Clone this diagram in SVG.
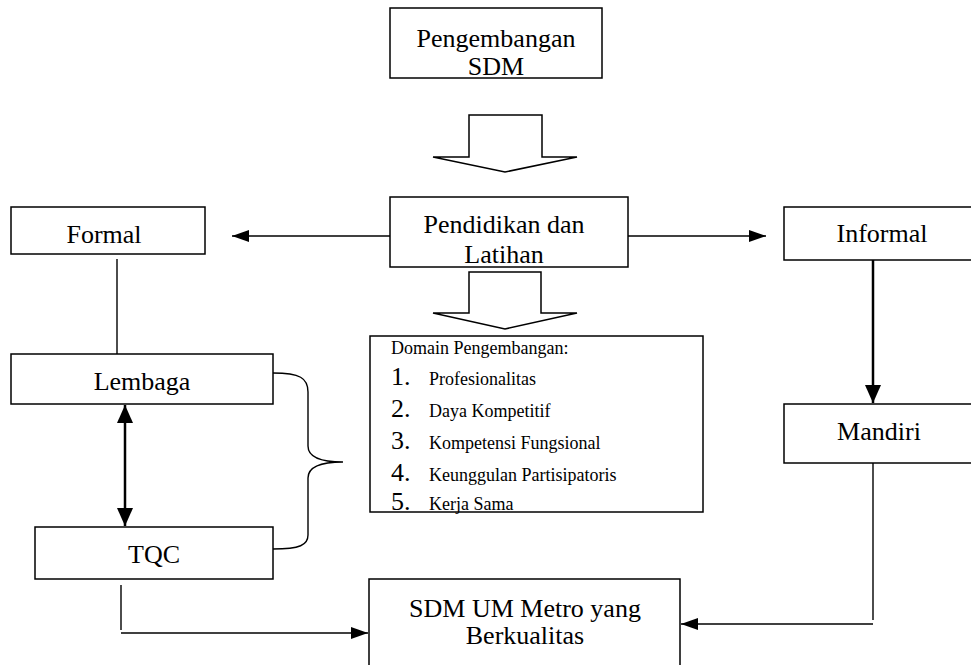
<svg xmlns="http://www.w3.org/2000/svg" width="971" height="665" viewBox="0 0 971 665">
<style>
.box{fill:#fff;stroke:#000;stroke-width:1.5}
.t{font-family:"Liberation Serif","Times New Roman",serif;font-size:26px;fill:#000;text-anchor:middle}
.ln{fill:none;stroke:#000;stroke-width:1.4}
.thk{fill:none;stroke:#000;stroke-width:2.5}
.hol{fill:#fff;stroke:#000;stroke-width:1.5}
.s{font-family:"Liberation Serif","Times New Roman",serif;fill:#000}
.n{font-family:"Liberation Serif","Times New Roman",serif;fill:#000;font-size:26px}
.i{font-family:"Liberation Serif","Times New Roman",serif;fill:#000;font-size:18px}
</style>
<defs>
<marker id="ah" markerUnits="userSpaceOnUse" markerWidth="17" markerHeight="12" refX="17" refY="6" orient="auto"><path d="M0,0 L17,6 L0,12 z" fill="#000"/></marker>
<marker id="ahb" markerUnits="userSpaceOnUse" markerWidth="18" markerHeight="16" refX="18" refY="8" orient="auto-start-reverse"><path d="M0,0 L18,8 L0,16 z" fill="#000"/></marker>
</defs>
<rect width="971" height="665" fill="#fff"/>
<g id="pengembangan-sdm">
<rect class="box" x="390" y="8" width="212" height="70"/>
<text class="t" x="496" y="47">Pengembangan</text>
<text class="t" x="496" y="75">SDM</text>
</g>
<g id="hollow-arrow-1">
<polygon class="hol" points="469,115 542,115 542,157 577,157 505,172 433,157 469,157"/>
</g>
<g id="pendidikan">
<rect class="box" x="390" y="197" width="238" height="70"/>
<text class="t" x="504" y="233">Pendidikan dan</text>
<text class="t" x="504" y="263">Latihan</text>
</g>
<g id="hollow-arrow-2">
<polygon class="hol" points="469,272 541,272 541,313 577,313 505,329 433,313 469,313"/>
</g>
<g id="formal">
<rect class="box" x="11" y="207" width="194" height="47"/>
<text class="t" x="104" y="243">Formal</text>
</g>
<g id="informal">
<rect class="box" x="784" y="207" width="192" height="53"/>
<text class="t" x="882" y="242">Informal</text>
</g>
<g id="lembaga">
<rect class="box" x="11" y="354" width="262" height="50"/>
<text class="t" x="142" y="390">Lembaga</text>
</g>
<g id="tqc">
<rect class="box" x="35" y="527" width="238" height="52"/>
<text class="t" x="154" y="563">TQC</text>
</g>
<g id="mandiri">
<rect class="box" x="784" y="404" width="192" height="59"/>
<text class="t" x="879" y="440">Mandiri</text>
</g>
<g id="domain">
<rect class="box" x="370" y="336" width="333" height="176"/>
<text class="s" x="391" y="354" font-size="18">Domain Pengembangan:</text>
<text class="n" x="391" y="385">1.</text>
<text class="i" x="429" y="385">Profesionalitas</text>
<text class="n" x="391" y="417">2.</text>
<text class="i" x="429" y="417">Daya  Kompetitif</text>
<text class="n" x="391" y="449">3.</text>
<text class="i" x="429" y="449">Kompetensi Fungsional</text>
<text class="n" x="391" y="481">4.</text>
<text class="i" x="429" y="481">Keunggulan Partisipatoris</text>
<text class="n" x="391" y="510">5.</text>
<text class="i" x="429" y="510">Kerja Sama</text>
</g>
<g id="sdm-um-metro">
<rect class="box" x="369" y="579" width="311" height="95"/>
<text class="t" x="525" y="617">SDM UM Metro yang</text>
<text class="t" x="525" y="644">Berkualitas</text>
</g>
<g id="connectors">
<line class="ln" x1="390" y1="236" x2="232" y2="236" marker-end="url(#ah)"/>
<line class="ln" x1="628" y1="236" x2="766" y2="236" marker-end="url(#ah)"/>
<line class="ln" x1="117" y1="259" x2="117" y2="354"/>
<line class="thk" x1="125" y1="405" x2="125" y2="526" marker-start="url(#ahb)" marker-end="url(#ahb)"/>
<line class="thk" x1="873" y1="260" x2="873" y2="403" marker-end="url(#ahb)"/>
<line class="ln" x1="873" y1="463" x2="873" y2="620"/>
<line class="ln" x1="873" y1="624" x2="681" y2="624" marker-end="url(#ah)"/>
<line class="ln" x1="121" y1="585" x2="121" y2="630"/>
<line class="ln" x1="121" y1="633" x2="368" y2="633" marker-end="url(#ah)"/>
<path class="ln" d="M273,373 C300,373 308,378 308,392 V446 C308,456 318,462 343,462 C318,462 308,468 308,478 V535 C308,545 300,549 273,549"/>
</g>
</svg>
